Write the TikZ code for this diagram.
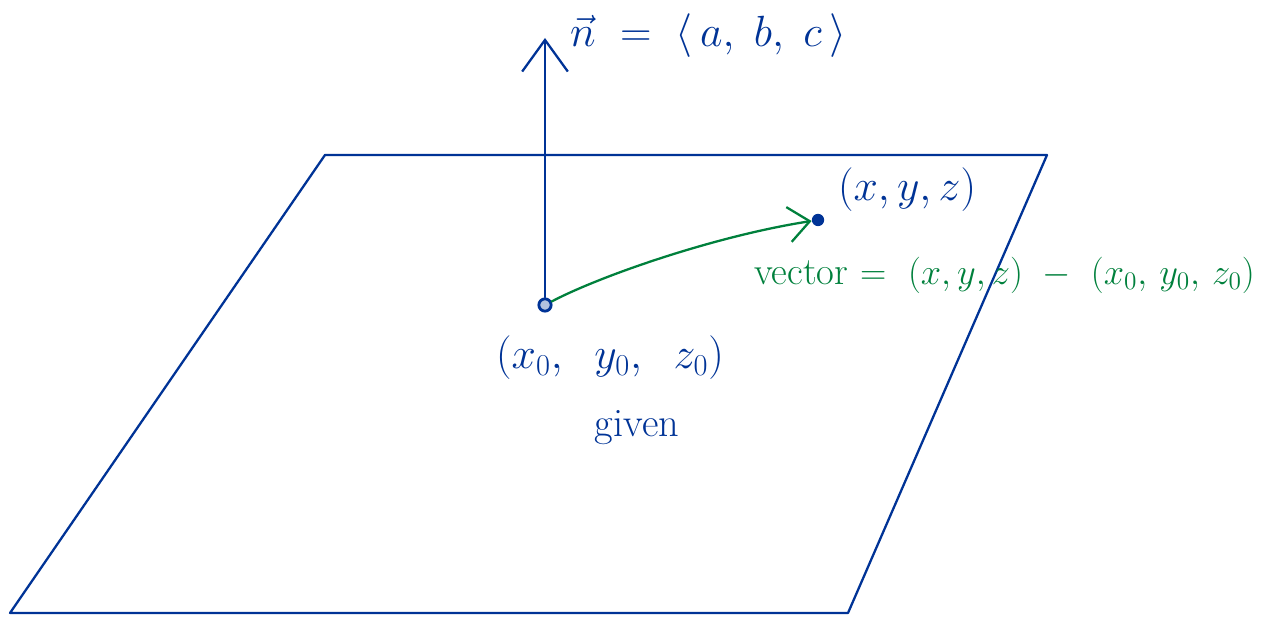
\documentclass[tikz,border=0pt]{standalone}
\usepackage{amsmath}
\usepackage{tikz}
\usetikzlibrary{arrows.meta,calc}
\definecolor{penblue}{RGB}{0,51,150}
\definecolor{pengreen}{RGB}{0,128,60}
\newcommand{\pxU}{0.02}
\tikzset{
  pline/.style  ={line width=1.3pt,line cap=round,line join=round},
  plane/.style  ={pline,penblue},
  narr/.style   ={pline,penblue,-{Straight Barb[length=18pt,width=26pt]}},
  garr/.style   ={pline,pengreen,-{Straight Barb[length=12pt,width=20pt]}},
  odot/.style   ={circle,draw=penblue,line width=1.6pt,fill=penblue!30,inner sep=0pt,minimum size=7pt},
  bdot/.style   ={circle,draw=none,fill=penblue,inner sep=0pt,minimum size=7pt},
  blab/.style   ={inner sep=1pt,text=penblue,font=\fontsize{23}{27}\selectfont},
  glab/.style   ={inner sep=1pt,text=pengreen,font=\fontsize{22}{26}\selectfont},
}
\begin{document}
\begin{tikzpicture}[x=\pxU cm,y=-\pxU cm]
      \useasboundingbox (0,0) rectangle (1265,617);
      % plane
      \coordinate (TL) at (325,155);
      \coordinate (TR) at (1047,155);
      \coordinate (BR) at (848,613);
      \coordinate (BL) at (10,613);
      \draw[plane] (TL) -- (TR) -- (BR) -- (BL) -- cycle;
      \node[odot] (P0) at (545,305) {};
      \node[bdot] (P) at (818,220) {};
      \coordinate (Ntip) at (545,38);
      \draw[narr] (P0) -- (Ntip);
      \draw[garr] (P0) .. controls (600,276) and (715,236) .. (P);
      \node[blab,anchor=west] (nlab) at (568,36) {$\vec{n}\ =\ \langle\,a,\ b,\ c\,\rangle$};
      \node[blab,anchor=west] (plab) at (836,190) {$(x, y, z)$};
      \node[glab,anchor=west] (vlab) at (752,275) {vector $=\ (x, y, z)\ -\ (x_0,\, y_0,\, z_0)$};
      \node[blab] (p0lab) at (610,358) {$(x_0,\ \ y_0,\ \ z_0)$};
      \node[blab] (given) at (637,428) {given};
\end{tikzpicture}
\end{document}
